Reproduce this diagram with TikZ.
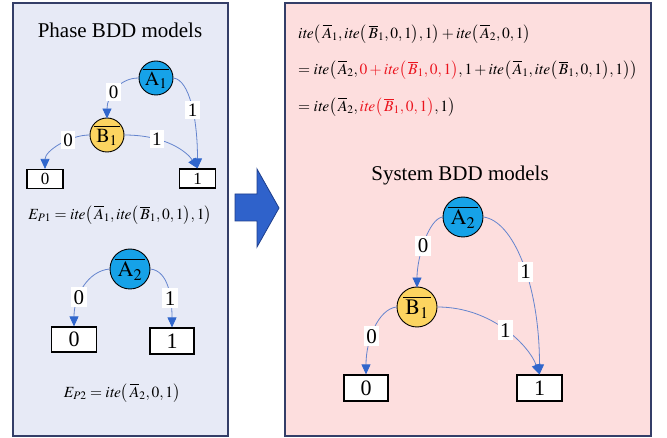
\documentclass[tikz,border=0pt]{standalone}
\usepackage{mathptmx}
\usepackage{fontspec}
\setmainfont{Liberation Serif}
\usetikzlibrary{arrows.meta}

\definecolor{leftbg}{RGB}{231,234,246}
\definecolor{rightbg}{RGB}{253,222,222}
\definecolor{frame}{RGB}{52,62,104}
\definecolor{nodeblue}{RGB}{22,162,232}
\definecolor{nodeyellow}{RGB}{252,212,96}
\definecolor{edgeblue}{RGB}{100,132,206}
\definecolor{tipblue}{RGB}{48,102,204}
\definecolor{bigarrow}{RGB}{47,98,203}
\definecolor{bigarrowedge}{RGB}{30,62,140}
\definecolor{hl}{RGB}{235,20,30}

\newcommand{\iteop}{\mathit{ite}}
\newcommand{\nbar}[1]{\overline{#1}}

\begin{document}
\begin{tikzpicture}[x=1pt,y=-1pt,
  panel/.style={draw=frame, line width=1.4pt},
  title/.style={font=\fontsize{21}{24}\selectfont},
  formula/.style={font=\fontsize{15.5}{19}\selectfont, inner sep=0pt},
  var/.style={circle, draw=black, line width=0.9pt, inner sep=0pt},
  varA/.style={var, fill=nodeblue},
  varB/.style={var, fill=nodeyellow},
  small/.style={font=\fontsize{20}{20}\selectfont},
  large/.style={font=\fontsize{22}{22}\selectfont},
  term/.style={draw=black, line width=1.2pt, fill=white, inner sep=0pt},
  edge/.style={draw=edgeblue, line width=0.8pt,
    -{Triangle[length=10pt,width=9pt,color=tipblue]}},
  lbl/.style={fill=white, inner xsep=2.5pt, inner ysep=3pt,
    font=\fontsize{21}{21}\selectfont},
  lblsmall/.style={lbl, inner ysep=2.5pt, font=\fontsize{19}{19}\selectfont}
]
\useasboundingbox (0,0) rectangle (667,438);
\fill[white] (0,0) rectangle (667,438);

% panels
\draw[panel, fill=leftbg] (13,3) rectangle (228,436);
\draw[panel, fill=rightbg] (285,3) rectangle (651,436);

% big arrow between the panels
\draw[fill=bigarrow, draw=bigarrowedge, line width=0.8pt]
  (235,194) -- (257,194) -- (257,169) -- (279,208) -- (257,247)
  -- (257,221) -- (235,221) -- cycle;

% ---------------- phase BDD models ----------------
\node[title] (ptitle) at (120,30) {Phase BDD models};

\node[varA, small, minimum size=34pt] (pA1) at (156,78) {$\nbar{\,\mathrm{A}_1\,}$};
\node[varB, small, minimum size=34pt] (pB1) at (107,135) {$\nbar{\,\mathrm{B}_1\,}$};
\node[term, font=\fontsize{17}{17}\selectfont, minimum width=36pt, minimum height=19pt] (pT0) at (45,179) {0};
\node[term, font=\fontsize{17}{17}\selectfont, minimum width=36pt, minimum height=19pt] (pT1) at (197.5,178.5) {1};

\draw[edge] (pA1.west) .. controls +(-20,0) and +(0,-22) .. ([yshift=-1pt]pB1.north)
  node[lblsmall, pos=0.55] {0};
\draw[edge] (pA1.east) .. controls +(16,2) and +(0,-50) .. (pT1.north)
  node[lblsmall, pos=0.55] {1};
\draw[edge] (pB1.west) .. controls +(-20,0) and +(0,-18) .. (pT0.north)
  node[lblsmall, pos=0.35] {0};
\draw[edge] (pB1.east) .. controls +(42,0) and +(-10,-16) .. (pT1.north)
  node[lblsmall, pos=0.3] {1};

\node[formula] (eP1) at (120,215)
  {$E_{P1}=\iteop\bigl(\,\nbar{A}_1,\iteop\bigl(\,\nbar{B}_1,0,1\bigr),1\bigr)$};

\node[varA, large, minimum size=40pt] (pA2) at (130,269) {$\nbar{\,\mathrm{A}_2\,}$};
\node[term, large, minimum width=45pt, minimum height=25pt] (qT0) at (74,339.5) {0};
\node[term, large, minimum width=44pt, minimum height=26pt] (qT1) at (172,341) {1};

\draw[edge] (pA2.west) .. controls +(-22,2) and +(0,-30) .. (qT0.north)
  node[lbl, pos=0.65] {0};
\draw[edge] (pA2.east) .. controls +(18,2) and +(0,-30) .. (qT1.north)
  node[lbl, pos=0.65] {1};

\node[formula] (eP2) at (122,393)
  {$E_{P2}=\iteop\bigl(\,\nbar{A}_2,0,1\bigr)$};

% ---------------- system BDD models ----------------
\node[formula, anchor=west] (s1) at (298,34)
  {$\iteop\bigl(\,\nbar{A}_1,\iteop\bigl(\,\nbar{B}_1,0,1\bigr),1\bigr)
    +\iteop\bigl(\,\nbar{A}_2,0,1\bigr)$};
\node[formula, anchor=west] (s2) at (298,70)
  {$=\iteop\bigl(\,\nbar{A}_2,{\color{hl}0+\iteop\bigl(\,\nbar{B}_1,0,1\bigr)},
    1+\iteop\bigl(\,\nbar{A}_1,\iteop\bigl(\,\nbar{B}_1,0,1\bigr),1\bigr)\bigr)$};
\node[formula, anchor=west] (s3) at (298,107)
  {$=\iteop\bigl(\,\nbar{A}_2,{\color{hl}\iteop\bigl(\,\nbar{B}_1,0,1\bigr)},1\bigr)$};

\node[title] (stitle) at (460,175) {System BDD models};

\node[varA, large, minimum size=40pt] (sA2) at (463,217) {$\nbar{\,\mathrm{A}_2\,}$};
\node[varB, large, minimum size=40pt] (sB1) at (417,307) {$\nbar{\,\mathrm{B}_1\,}$};
\node[term, large, minimum width=44pt, minimum height=26pt] (sT0) at (366,388) {0};
\node[term, large, minimum width=45pt, minimum height=26pt] (sT1) at (539.5,388) {1};

\draw[edge] (sA2.west) .. controls +(-14,2) and +(0,-30) .. ([yshift=-1pt]sB1.north)
  node[lbl, pos=0.55] {0};
\draw[edge] (sA2.east) .. controls +(30,4) and +(0,-90) .. (sT1.north)
  node[lbl, pos=0.55] {1};
\draw[edge] (sB1.west) .. controls +(-18,2) and +(0,-35) .. (sT0.north)
  node[lbl, pos=0.6] {0};
\draw[edge] (sB1.east) .. controls +(55,0) and +(-10,-28) .. (sT1.north)
  node[lbl, pos=0.5] {1};
\end{tikzpicture}
\end{document}
